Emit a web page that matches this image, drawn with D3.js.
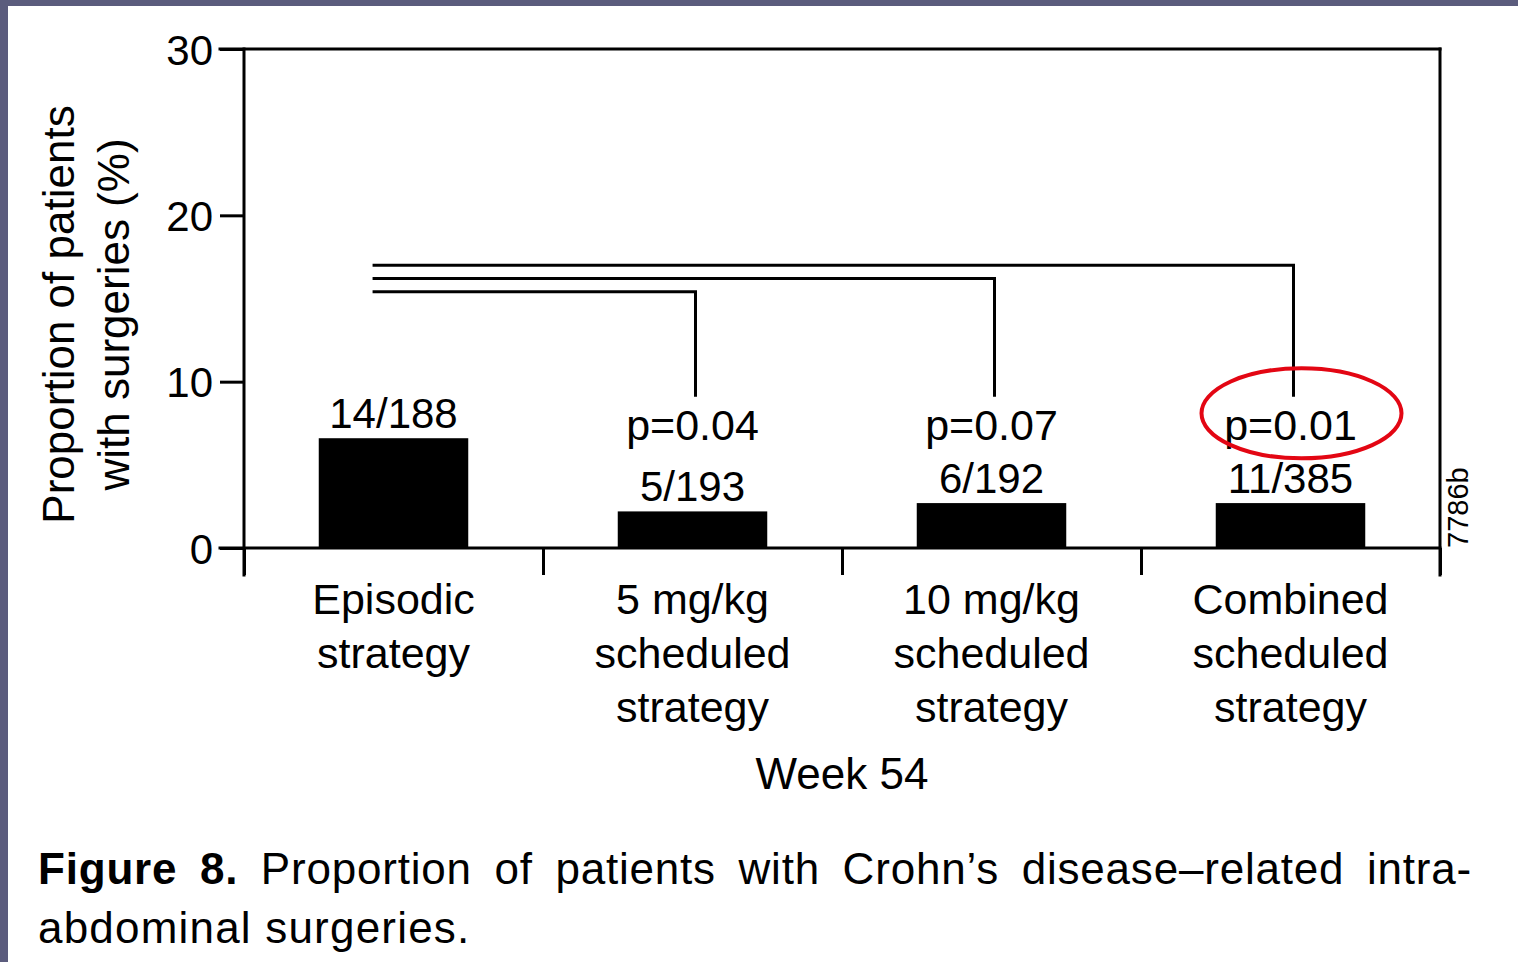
<!DOCTYPE html>
<html>
<head>
<meta charset="utf-8">
<script src="https://cdn.jsdelivr.net/npm/d3@7"></script>
<style>
  body { margin: 0; background: #fff; }
  svg { display: block; }
  text { font-family: "Liberation Sans", Arial, Helvetica, sans-serif; fill: #000; }
</style>
</head>
<body>
<svg id="chart"></svg>
<script>
// --- data ---
const categories = ["Episodic", "5 mg/kg", "10 mg/kg", "Combined"];
const categoryLines = [
  ["Episodic", "strategy"],
  ["5 mg/kg", "scheduled", "strategy"],
  ["10 mg/kg", "scheduled", "strategy"],
  ["Combined", "scheduled", "strategy"]
];
const percentValues = [6.6, 2.2, 2.7, 2.7];
const countLabels = ["14/188", "5/193", "6/192", "11/385"];
const pValues = [null, "p=0.04", "p=0.07", "p=0.01"];
const bracketLevels = [null, 15.4, 16.2, 17.0]; // height of comparison line vs Episodic
const bracketDrop = 9.1;
const yTicks = [0, 10, 20, 30];
const highlighted = "Combined";

const W = 1518, H = 962;
const svg = d3.select("#chart").attr("width", W).attr("height", H);

svg.append("rect").attr("width", W).attr("height", H).attr("fill", "#fff");
// frame band (screenshot border)
svg.append("rect").attr("x", 0).attr("y", 0).attr("width", W).attr("height", 6).attr("fill", "#5b5c7d");
svg.append("rect").attr("x", 0).attr("y", 0).attr("width", 8).attr("height", H).attr("fill", "#5b5c7d");

const mLeft = 244, mRight = 1440, mTop = 49, mBottom = 548;

const y = d3.scaleLinear().domain([0, 30]).range([mBottom, mTop]);
const x = d3.scaleBand().domain(categories).range([mLeft, mRight])
  .paddingInner(0.5).paddingOuter(0.25);
const xb = d3.scaleLinear().domain([0, categories.length]).range([mLeft, mRight]);

const g = svg.append("g");

// --- axes ---
const yAxis = g.append("g")
  .attr("transform", `translate(${mLeft},0)`)
  .call(d3.axisLeft(y).tickValues(yTicks).tickSize(24).tickSizeOuter(0).tickPadding(7));
yAxis.select(".domain").remove();
yAxis.selectAll("line").attr("stroke", "#000").attr("stroke-width", 3);
yAxis.selectAll("text").style("font-size", "42px").attr("dy", "0.36em");

const xAxis = g.append("g")
  .attr("transform", `translate(0,${mBottom})`)
  .call(d3.axisBottom(xb).ticks(categories.length).tickSize(27).tickFormat(""));
xAxis.select(".domain").remove();
xAxis.selectAll("line").attr("stroke", "#000").attr("stroke-width", 3);

// frame lines
const frame = [
  [mLeft - 24, mBottom, mRight, mBottom],
  [mLeft, mTop, mLeft, mBottom + 27],
  [mLeft - 24, mTop, mRight, mTop],
  [mRight, mTop, mRight, mBottom + 27]
];
g.selectAll(".frame").data(frame).enter().append("line")
  .attr("x1", d => d[0]).attr("y1", d => d[1]).attr("x2", d => d[2]).attr("y2", d => d[3])
  .attr("stroke", "#000").attr("stroke-width", 3).attr("stroke-linecap", "square");

// --- bars ---
g.selectAll(".bar").data(percentValues).enter().append("rect")
  .attr("x", (d, i) => x(categories[i]))
  .attr("y", d => y(d))
  .attr("width", x.bandwidth())
  .attr("height", d => y(0) - y(d))
  .attr("fill", "#000");

const cx = c => x(c) + x.bandwidth() / 2;

// count labels
g.selectAll(".count").data(countLabels).enter().append("text")
  .attr("x", (d, i) => cx(categories[i]))
  .attr("y", (d, i) => y(percentValues[i]) - 10)
  .attr("text-anchor", "middle")
  .style("font-size", "42px")
  .text(d => d);

// p values
g.selectAll(".pval").data(pValues.filter(d => d)).enter().append("text")
  .attr("x", (d, i) => cx(categories[i + 1]))
  .attr("y", y(6.5))
  .attr("text-anchor", "middle")
  .style("font-size", "43px")
  .text(d => d);

// comparison brackets
const startX = x(categories[0]) + x.bandwidth() * 0.36;
const brackets = bracketLevels.map((lv, i) => ({ lv, c: categories[i] })).filter(d => d.lv !== null);
g.selectAll(".bracket").data(brackets).enter().append("path")
  .attr("d", d => `M${startX},${y(d.lv)}H${cx(d.c) + 3}V${y(bracketDrop)}`)
  .attr("fill", "none").attr("stroke", "#000").attr("stroke-width", 3);

// highlight ellipse
g.append("ellipse")
  .attr("cx", cx(highlighted) + 11)
  .attr("cy", y(8.1))
  .attr("rx", 100).attr("ry", 45)
  .attr("fill", "none").attr("stroke", "#e30613").attr("stroke-width", 4);

// category labels
const catG = g.selectAll(".cat").data(categoryLines).enter().append("text")
  .attr("text-anchor", "middle")
  .style("font-size", "43px");
catG.selectAll("tspan").data((d, i) => d.map(t => ({ t, i }))).enter().append("tspan")
  .attr("x", d => cx(categories[d.i]))
  .attr("y", (d, j) => 614 + j * 54)
  .text(d => d.t);

g.append("text")
  .attr("x", (mLeft + mRight) / 2)
  .attr("y", 789)
  .attr("text-anchor", "middle")
  .style("font-size", "44px")
  .text("Week 54");

// y title
const yt = g.append("text")
  .attr("transform", `translate(74,${(mTop + mBottom) / 2 + 16}) rotate(-90)`)
  .attr("text-anchor", "middle")
  .style("font-size", "44px");
yt.append("tspan").attr("x", 0).attr("y", 0).text("Proportion of patients");
yt.append("tspan").attr("x", 0).attr("y", 55).text("with surgeries (%)");

// figure code
g.append("text")
  .attr("transform", `translate(1468,${mBottom}) rotate(-90)`)
  .style("font-size", "29px")
  .text("7786b");

// --- caption (first line justified) ---
const cap1 = svg.append("text").attr("x", 38).attr("y", 884)
  .style("font-size", "44px").style("letter-spacing", "0.8px");
cap1.append("tspan").style("font-weight", "bold").text("Figure 8.");
cap1.append("tspan").text(" Proportion of patients with Crohn\u2019s disease\u2013related intra-");
const targetW = 1472 - 38;
const w1 = cap1.node().getComputedTextLength();
const spaces = 8;
cap1.style("word-spacing", `${(targetW - w1) / spaces}px`);

svg.append("text").attr("x", 38).attr("y", 943)
  .style("font-size", "44px").style("letter-spacing", "1.2px")
  .text("abdominal surgeries.");
</script>
</body>
</html>
